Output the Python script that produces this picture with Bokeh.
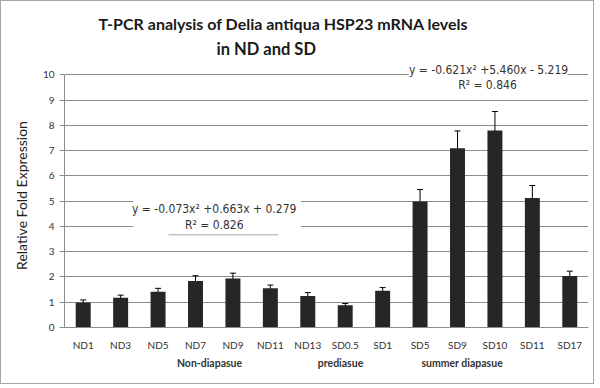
from bokeh.plotting import figure
from bokeh.models import (ColumnDataSource, Range1d, FixedTicker, Whisker,
                          TeeHead, Label, BoxAnnotation, LinearAxis, Title)
from bokeh.embed import file_html
from bokeh.resources import INLINE

# ---- data ----
categories = ["ND1", "ND3", "ND5", "ND7", "ND9", "ND11", "ND13",
              "SD0.5", "SD1", "SD5", "SD9", "SD10", "SD11", "SD17"]
values = [0.99, 1.18, 1.42, 1.84, 1.94, 1.55, 1.25,
          0.88, 1.45, 4.99, 7.10, 7.80, 5.13, 2.04]
errors = [0.10, 0.10, 0.13, 0.21, 0.21, 0.13, 0.13,
          0.07, 0.13, 0.47, 0.68, 0.75, 0.49, 0.19]
group_labels = ["Non-diapasue", "prediasue", "summer diapasue"]
group_centers = [3.875, 7.375, 10.625]
y_ticks = list(range(0, 11))
title_lines = ["T-PCR analysis of Delia antiqua HSP23 mRNA levels", "in ND and SD"]
eq_nd = ["y = -0.073x\u00b2 +0.663x + 0.279", "R\u00b2 = 0.826"]
eq_sd = ["y = -0.621x\u00b2 +5.460x - 5.219", "R\u00b2 = 0.846"]

xpos = [i + 0.5 for i in range(len(categories))]
src = ColumnDataSource(dict(
    x=xpos, cat=categories, val=values,
    upper=[v + e for v, e in zip(values, errors)],
    lower=[v - e for v, e in zip(values, errors)],
))

p = figure(width=594, height=384, x_range=Range1d(0, len(categories)), y_range=Range1d(0, 10.45),
           output_backend="svg", toolbar_location=None, title_location=None,
           min_border_left=63, min_border_right=7, min_border_top=62, min_border_bottom=58)
p.outline_line_color = None
p.background_fill_color = "white"
p.border_fill_color = "white"
p.styles = {"border": "1px solid #a6a6a6"}

# titles (second line added first so it sits nearest the plot)
t2 = Title(text=title_lines[1], align="left", offset=152, text_font="Lato", text_font_style="bold",
           text_font_size="16.5px", text_color="#1a1a1a", standoff=9)
t1 = Title(text=title_lines[0], align="left", offset=34, text_font="Lato", text_font_style="bold",
           text_font_size="16px", text_color="#1a1a1a", standoff=0)
p.add_layout(t2, "above")
p.add_layout(t1, "above")

p.vbar(x="x", top="val", width=0.4, source=src, fill_color="#262626", line_color=None)

w = Whisker(base="x", upper="upper", lower="lower", source=src, line_color="black", line_width=1,
            upper_head=TeeHead(size=6, line_color="black", line_width=1),
            lower_head=TeeHead(size=6, line_color="black", line_width=1))
p.add_layout(w)

# grid / axes
p.xgrid.grid_line_color = None
p.ygrid.grid_line_color = "#8c8c8c"
p.ygrid.ticker = FixedTicker(ticks=y_ticks)
p.yaxis.ticker = FixedTicker(ticks=y_ticks)
p.yaxis.bounds = (0, 10)
p.yaxis.minor_tick_line_color = None
p.yaxis.major_tick_in = 0
p.yaxis.major_tick_out = 5
p.yaxis.minor_tick_out = 0
p.yaxis.axis_line_color = "#8c8c8c"
p.yaxis.major_tick_line_color = "#8c8c8c"
p.yaxis.major_label_text_font = "Lato"
p.yaxis.major_label_text_font_size = "10px"
p.yaxis.major_label_text_color = "#333333"
p.yaxis.major_label_standoff = 5
p.yaxis.axis_label = "Relative Fold Expression"
p.yaxis.axis_label_text_font = "Lato"
p.yaxis.axis_label_text_font_style = "normal"
p.yaxis.axis_label_text_font_size = "14px"
p.yaxis.axis_label_text_color = "#222222"
p.yaxis.axis_label_standoff = 10

p.xaxis.ticker = FixedTicker(ticks=xpos)
p.xaxis.major_label_overrides = {x: c for x, c in zip(xpos, categories)}
p.xaxis.axis_line_color = "#8c8c8c"
p.xaxis.major_tick_line_color = None
p.xaxis.minor_tick_line_color = None
p.xaxis.major_tick_out = 0
p.xaxis.minor_tick_out = 0
p.xaxis.major_label_text_font = "Lato"
p.xaxis.major_label_text_font_size = "10px"
p.xaxis.major_label_text_color = "#333333"
p.xaxis.major_label_standoff = 11

# group labels: second axis below
gax = LinearAxis(ticker=FixedTicker(ticks=group_centers),
                 major_label_overrides={c: t for c, t in zip(group_centers, group_labels)})
gax.axis_line_color = None
gax.major_tick_line_color = None
gax.minor_tick_line_color = None
gax.major_tick_out = 0
gax.minor_tick_out = 0
gax.major_label_standoff = 3
gax.major_label_text_font = "Lato"
gax.major_label_text_font_style = "bold"
gax.major_label_text_font_size = "10.5px"
gax.major_label_text_color = "#333333"
p.add_layout(gax, "below")

# trendline equation boxes (white boxes break the gridlines)
p.add_layout(BoxAnnotation(left=1.84, right=6.32, bottom=3.85, top=5.25, fill_color="white",
                           fill_alpha=1, line_color=None, level="underlay"))
p.add_layout(BoxAnnotation(left=9.2, right=13.44, bottom=9.85, top=10.3, fill_color="white",
                           fill_alpha=1, line_color=None, level="underlay"))
eq_font = "'DejaVu Sans Condensed', 'Liberation Sans Narrow', 'Roboto'"
eq_size = "12px"
p.add_layout(Label(x=4.0, y=4.7, text=eq_nd[0], text_align="center", text_baseline="middle",
                   text_font=eq_font, text_font_size=eq_size, text_color="#333333"))
p.add_layout(Label(x=4.0, y=4.05, text=eq_nd[1], text_align="center", text_baseline="middle",
                   text_font=eq_font, text_font_size=eq_size, text_color="#333333"))
p.segment(x0=[2.78], y0=[3.67], x1=[5.71], y1=[3.67], line_color="#aaaaaa", line_width=1)
p.add_layout(Label(x=11.33, y=10.2, text=eq_sd[0], text_align="center", text_baseline="middle",
                   text_font=eq_font, text_font_size=eq_size, text_color="#333333"))
p.add_layout(Label(x=11.3, y=9.6, text=eq_sd[1], text_align="center", text_baseline="middle",
                   text_font=eq_font, text_font_size=eq_size, text_color="#333333"))

open("out.html", "w").write(file_html(p, INLINE))
